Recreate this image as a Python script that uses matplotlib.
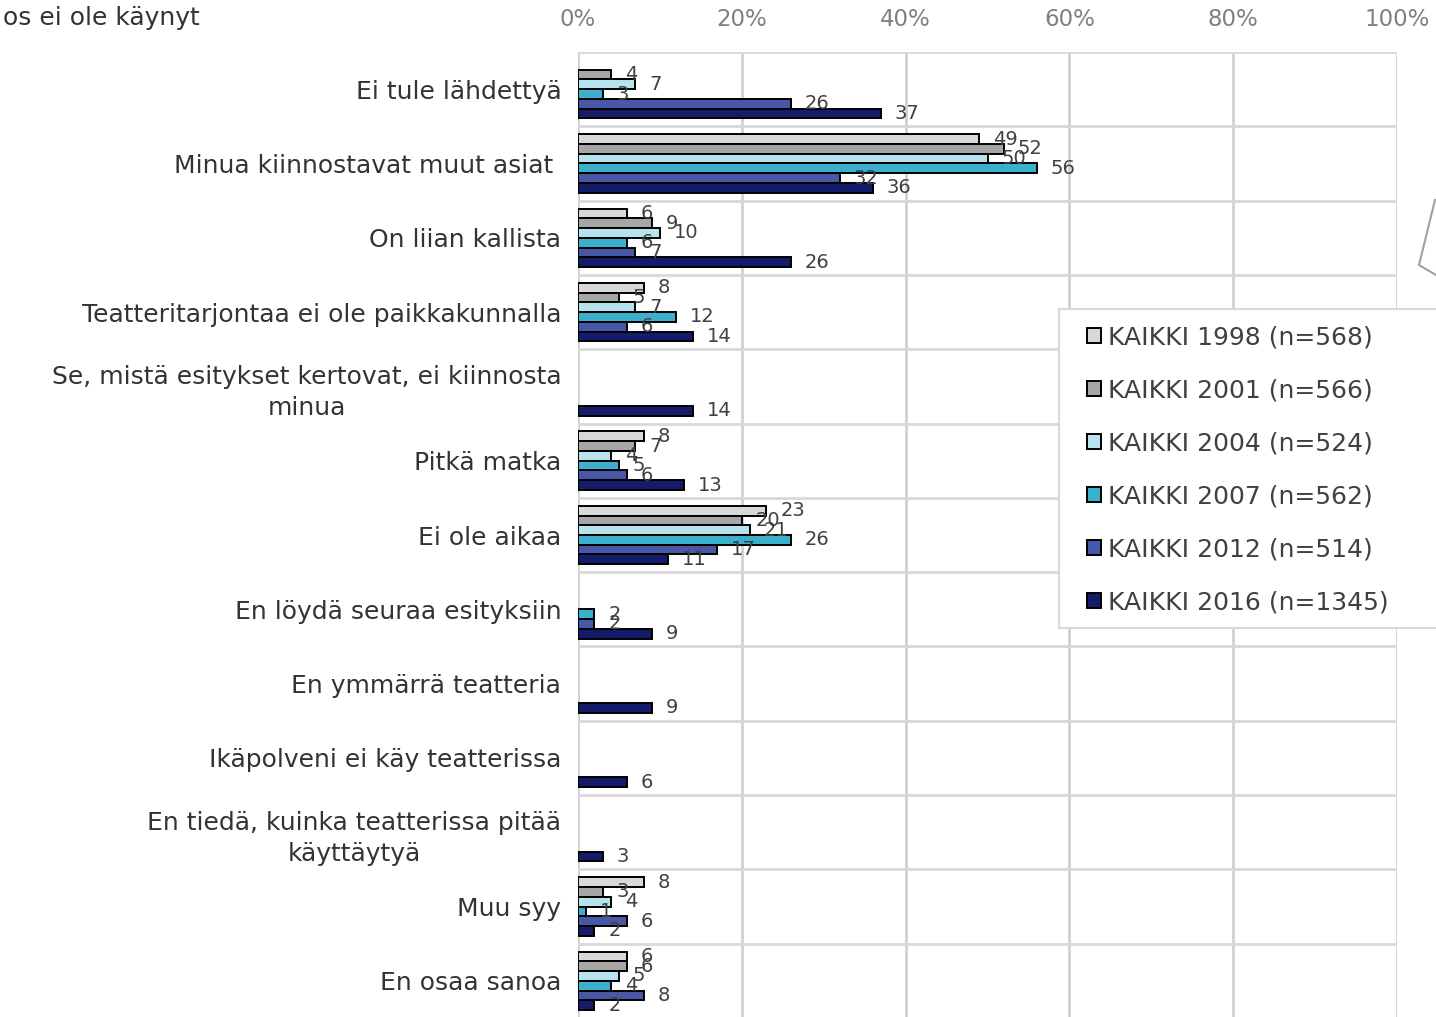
import matplotlib.pyplot as plt
import matplotlib.lines as mlines
import matplotlib.patches as mpatches
import numpy as np

# Tiedot
kategoriat = [
    'Ei tule lähdettyä',
    'Minua kiinnostavat muut asiat ',
    'On liian kallista',
    'Teatteritarjontaa ei ole paikkakunnalla',
    'Se, mistä esitykset kertovat, ei kiinnosta\nminua',
    'Pitkä matka',
    'Ei ole aikaa',
    'En löydä seuraa esityksiin',
    'En ymmärrä teatteria',
    'Ikäpolveni ei käy teatterissa',
    'En tiedä, kuinka teatterissa pitää\nkäyttäytyä',
    'Muu syy',
    'En osaa sanoa',
]
sarjat = ['KAIKKI 1998 (n=568)', 'KAIKKI 2001 (n=566)', 'KAIKKI 2004 (n=524)',
          'KAIKKI 2007 (n=562)', 'KAIKKI 2012 (n=514)', 'KAIKKI 2016 (n=1345)']
n = np.nan
v1998 = [n, 49, 6, 8, n, 8, 23, n, n, n, n, 8, 6]
v2001 = [4, 52, 9, 5, n, 7, 20, n, n, n, n, 3, 6]
v2004 = [7, 50, 10, 7, n, 4, 21, n, n, n, n, 4, 5]
v2007 = [3, 56, 6, 12, n, 5, 26, 2, n, n, n, 1, 4]
v2012 = [26, 32, 7, 6, n, 6, 17, 2, n, n, n, 6, 8]
v2016 = [37, 36, 26, 14, 14, 13, 11, 9, 9, 6, 3, 2, 2]
arvot = [v1998, v2001, v2004, v2007, v2012, v2016]
varit = ['#D9D9D9', '#A6A6A6', '#B7E3EE', '#3BB0CC', '#4857A6', '#141C6A']
xtikit = [0, 20, 40, 60, 80, 100]

W, H = 1436, 1017
fig = plt.figure(figsize=(W/100, H/100), dpi=100)
ax = fig.add_axes([578/W, -0.001, (1397-578)/W, 1 - 52/H + 0.001])

h = 0.131
y = np.arange(len(kategoriat))
for j, (vals, vari, nimi) in enumerate(zip(arvot, varit, sarjat)):
    ypos = y + (j - 2.5) * h
    vals = np.array(vals, dtype=float)
    ok = ~np.isnan(vals)
    ax.barh(ypos[ok], vals[ok], height=h, color=vari, edgecolor='black',
            linewidth=1.4, label=nimi, zorder=3)
    for yy, vv in zip(ypos[ok], vals[ok]):
        ax.annotate(f'{vv:.0f}', (vv, yy), xytext=(10, 0), textcoords='offset points',
                    ha='left', va='center', fontsize=14, color='#404040', zorder=4)

ax.set_xlim(0, 100)
ax.set_ylim(len(kategoriat) - 0.5, -0.5)
ax.set_xticks(xtikit)
ax.set_xticklabels([f'{t}%' for t in xtikit])
ax.xaxis.tick_top()
ax.tick_params(axis='x', length=0, pad=15, labelsize=16.5, labelcolor='#808080')
ax.set_yticks(y)
ax.set_yticklabels(kategoriat, multialignment='center', linespacing=1.4)
ax.tick_params(axis='y', length=0, pad=12, labelsize=18, labelcolor='#333333')
ax.set_yticks(np.arange(len(kategoriat) + 1) - 0.5, minor=True)
ax.tick_params(axis='y', which='minor', length=0)
ax.grid(axis='x', color='#D0D0D0', linewidth=2, zorder=0)
ax.grid(axis='y', which='minor', color='#D9D9D9', linewidth=2, zorder=0)
for s in ax.spines.values():
    s.set_visible(False)

# selitteen kehys
fig.add_artist(mpatches.Rectangle((1059/W, 1 - 628/H), (1445-1059)/W, (628-309)/H,
                                  facecolor='white', edgecolor='#D9D9D9', linewidth=1.5,
                                  zorder=5))
leg = fig.legend(*ax.get_legend_handles_labels(), loc='upper left',
                 bbox_to_anchor=(1059/W, 1 - 298/H),
                 fontsize=18, frameon=False,
                 handlelength=0.56, handleheight=0.56, handletextpad=0.3,
                 labelspacing=1.16, borderpad=0.6, labelcolor='#404040')
leg.set_zorder(6)

fig.text(200/W, 1 - 18/H, 'os ei ole käynyt', ha='right', va='center',
         fontsize=18, color='#333333')

# harmaa viiva oikeassa reunassa
fig.add_artist(mlines.Line2D([1435/W, 1419/W, 1436/W],
                             [1 - 200/H, 1 - 265/H, 1 - 275/H],
                             color='#A0A0A0', linewidth=1.5))

fig.savefig('out.png', dpi=100)
